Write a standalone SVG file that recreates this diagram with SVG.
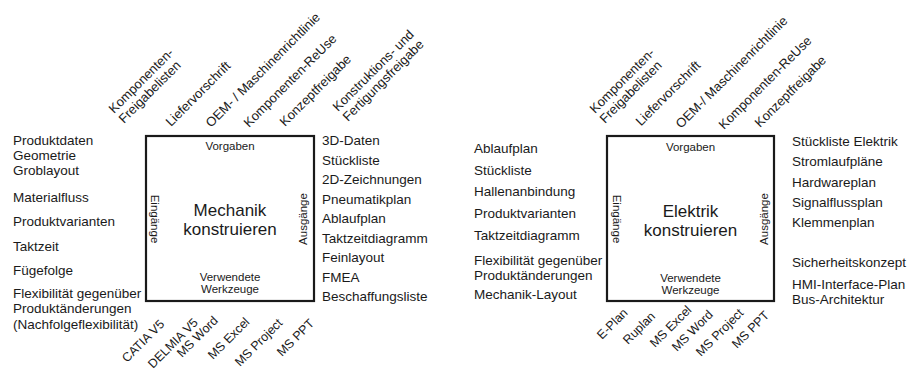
<svg xmlns="http://www.w3.org/2000/svg" width="911" height="372" viewBox="0 0 911 372">
<style>
text{font-family:"Liberation Sans",Arial,sans-serif;fill:#1a1a1a}
.l{font-size:13.5px}
.t{font-size:13px}
.b{font-size:12.5px}
.s{font-size:11.5px;text-anchor:middle}
.h{font-size:17px;text-anchor:middle}
.box{fill:#fff;stroke:#1a1a1a;stroke-width:2.2}
</style>
<rect width="911" height="372" fill="#fff"/>
<g id="connectors"/>
<g id="mechanik">
<rect class="box" x="146" y="136" width="168" height="165"/>
<text class="s" x="230" y="150">Vorgaben</text>
<text class="h" x="230" y="215.5">Mechanik</text>
<text class="h" x="230" y="235">konstruieren</text>
<text class="s" x="230" y="280.5">Verwendete</text>
<text class="s" x="230" y="293">Werkzeuge</text>
<text class="s" transform="translate(151,219) rotate(90)">Eingänge</text>
<text class="s" transform="translate(307,219) rotate(-90)">Ausgänge</text>
</g>
<g id="mechanik-vorgaben" class="t">
<text transform="translate(114,114) rotate(-45)">Komponenten-<tspan x="0" dy="14">Freigabelisten</tspan></text>
<text transform="translate(171,127) rotate(-45)">Liefervorschrift</text>
<text transform="translate(211,128) rotate(-45)">OEM- / Maschinenrichtlinie</text>
<text transform="translate(249,128) rotate(-45)">Komponenten-ReUse</text>
<text transform="translate(285,127) rotate(-45)">Konzeptfreigabe</text>
<text transform="translate(338,112) rotate(-45)">Konstruktions- und<tspan x="0" dy="14">Fertigungsfreigabe</tspan></text>
</g>
<g id="mechanik-eingaenge" class="l">
<text x="13" y="145">Produktdaten</text>
<text x="13" y="160">Geometrie</text>
<text x="13" y="175">Groblayout</text>
<text x="13" y="202">Materialfluss</text>
<text x="13" y="226">Produktvarianten</text>
<text x="13" y="251">Taktzeit</text>
<text x="13" y="275">Fügefolge</text>
<text x="13" y="298">Flexibilität gegenüber</text>
<text x="13" y="313">Produktänderungen</text>
<text x="13" y="329">(Nachfolgeflexibilität)</text>
</g>
<g id="mechanik-ausgaenge" class="l">
<text x="322" y="145">3D-Daten</text>
<text x="322" y="164.5">Stückliste</text>
<text x="322" y="184">2D-Zeichnungen</text>
<text x="322" y="203.5">Pneumatikplan</text>
<text x="322" y="223">Ablaufplan</text>
<text x="322" y="242.5">Taktzeitdiagramm</text>
<text x="322" y="262">Feinlayout</text>
<text x="322" y="281.5">FMEA</text>
<text x="322" y="301">Beschaffungsliste</text>
</g>
<g id="mechanik-werkzeuge" class="b">
<text transform="translate(127,363) rotate(-45)">CATIA V5</text>
<text transform="translate(153,369) rotate(-45)">DELMIA V5</text>
<text transform="translate(182,358) rotate(-45)">MS Word</text>
<text transform="translate(213,360) rotate(-45)">MS Excel</text>
<text transform="translate(240,367) rotate(-45)">MS Project</text>
<text transform="translate(282,357) rotate(-45)">MS PPT</text>
</g>
<g id="elektrik">
<rect class="box" x="607" y="136" width="167" height="165"/>
<text class="s" x="690.5" y="151">Vorgaben</text>
<text class="h" x="690.5" y="216.5">Elektrik</text>
<text class="h" x="690.5" y="236">konstruieren</text>
<text class="s" x="690.5" y="281.5">Verwendete</text>
<text class="s" x="690.5" y="294">Werkzeuge</text>
<text class="s" transform="translate(613,219) rotate(90)">Eingänge</text>
<text class="s" transform="translate(768,219) rotate(-90)">Ausgänge</text>
</g>
<g id="elektrik-vorgaben" class="t">
<text transform="translate(595,114) rotate(-45)">Komponenten-<tspan x="0" dy="14">Freigabelisten</tspan></text>
<text transform="translate(641,126.5) rotate(-45)">Liefervorschrift</text>
<text transform="translate(681,129) rotate(-45)">OEM-/ Maschinenrichtlinie</text>
<text transform="translate(724,130) rotate(-45)">Komponenten-ReUse</text>
<text transform="translate(760,128) rotate(-45)">Konzeptfreigabe</text>
</g>
<g id="elektrik-eingaenge" class="l">
<text x="474" y="153">Ablaufplan</text>
<text x="474" y="174.5">Stückliste</text>
<text x="474" y="196">Hallenanbindung</text>
<text x="474" y="218">Produktvarianten</text>
<text x="474" y="240">Taktzeitdiagramm</text>
<text x="474" y="265">Flexibilität gegenüber</text>
<text x="474" y="279.5">Produktänderungen</text>
<text x="474" y="299">Mechanik-Layout</text>
</g>
<g id="elektrik-ausgaenge" class="l">
<text x="792" y="145.5">Stückliste Elektrik</text>
<text x="792" y="166">Stromlaufpläne</text>
<text x="792" y="186.5">Hardwareplan</text>
<text x="792" y="206.5">Signalflussplan</text>
<text x="792" y="227">Klemmenplan</text>
<text x="792" y="267">Sicherheitskonzept</text>
<text x="792" y="289">HMI-Interface-Plan</text>
<text x="792" y="303.5">Bus-Architektur</text>
</g>
<g id="elektrik-werkzeuge" class="b">
<text transform="translate(602,340) rotate(-45)">E-Plan</text>
<text transform="translate(628,345) rotate(-45)">Ruplan</text>
<text transform="translate(655,348) rotate(-45)">MS Excel</text>
<text transform="translate(677,352) rotate(-45)">MS Word</text>
<text transform="translate(701,357) rotate(-45)">MS Project</text>
<text transform="translate(737,349) rotate(-45)">MS PPT</text>
</g>
</svg>
